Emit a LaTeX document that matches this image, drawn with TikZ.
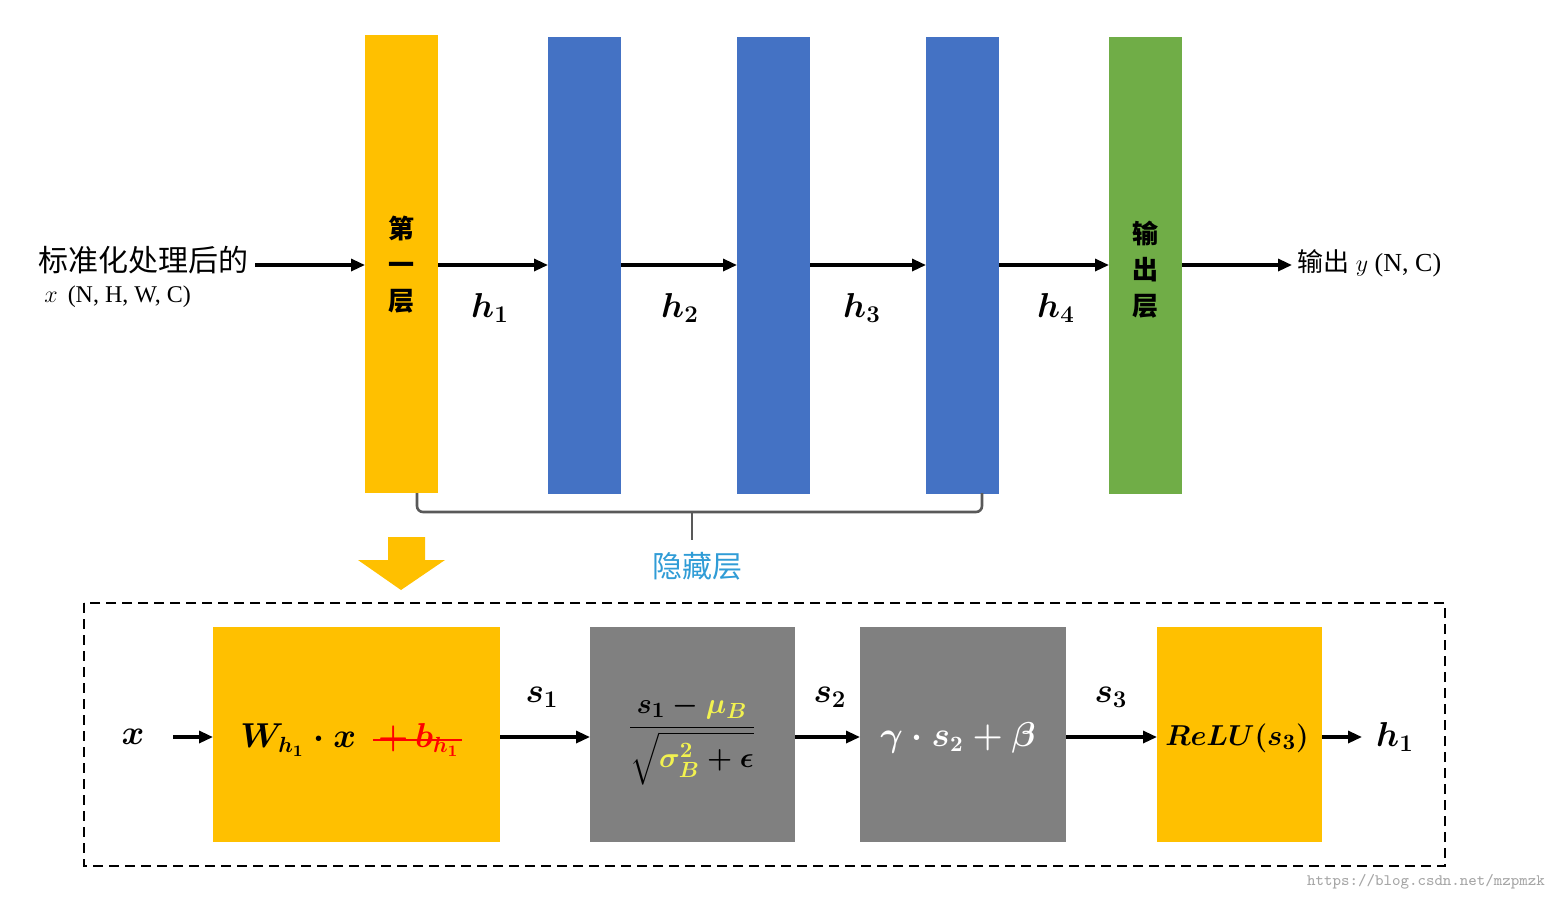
\documentclass[tikz,border=0pt]{standalone}
\usepackage{fontspec}
\usepackage{amsmath,bm}
\setmainfont{Liberation Serif}
\newfontfamily\cjk{Noto Sans CJK SC}
\usetikzlibrary{arrows.meta}
\definecolor{cy}{HTML}{FFC000}
\definecolor{cb}{HTML}{4472C4}
\definecolor{cg}{HTML}{70AD47}
\definecolor{cgr}{HTML}{808080}
\definecolor{cfy}{HTML}{F2F250}
\begin{document}
\begin{tikzpicture}[x=0.5pt,y=-0.5pt,
  bar/.style={draw=none,anchor=north west,inner sep=0},
  arr/.style={-{Triangle[length=7pt,width=6pt]},line width=1.6pt},
  hl/.style={font=\fontsize{18}{20}\selectfont\boldmath},
  bx/.style={draw=none,inner sep=0,anchor=north west}]
\useasboundingbox (0,0) rectangle (1564,902);
% top bars
\node[bar,fill=cy,minimum width=36.5pt,minimum height=229pt] (L1) at (365,35) {};
\node[bar,fill=cb,minimum width=36.5pt,minimum height=228.5pt] (B1) at (548,37) {};
\node[bar,fill=cb,minimum width=36.5pt,minimum height=228.5pt] (B2) at (737,37) {};
\node[bar,fill=cb,minimum width=36.5pt,minimum height=228.5pt] (B3) at (926,37) {};
\node[bar,fill=cg,minimum width=36.5pt,minimum height=228.5pt] (O) at (1109,37) {};
\node[font=\cjk\bfseries\fontsize{13}{17}\selectfont,align=center] (t1) at (401,265) {第\\[1pt]一\\[1pt]层};
\node[font=\cjk\bfseries\fontsize{13}{17}\selectfont,align=center] (t2) at (1145,270) {输\\[1pt]出\\[1pt]层};
\node[anchor=west,inner sep=0,font=\fontsize{15}{18}\selectfont] (in1) at (38,260) {\cjk 标准化处理后的};
\node[anchor=west,inner sep=0,font=\fontsize{12}{14}\selectfont] (in2) at (44,297) {$x$\, (N, H, W, C)};
\node[anchor=west,inner sep=0,font=\fontsize{13}{16}\selectfont] (out) at (1297,263) {{\cjk 输出} $y$ (N, C)};
\coordinate (a0) at (255,265);
\draw[arr] (a0) -- (365,265);
\draw[arr] (438,265) -- (548,265);
\draw[arr] (621,265) -- (737,265);
\draw[arr] (810,265) -- (926,265);
\draw[arr] (999,265) -- (1109,265);
\draw[arr] (1182,265) -- (1292,265);
\node[hl] (h1) at (490,308) {$h_1$};
\node[hl] (h2) at (680,308) {$h_2$};
\node[hl] (h3) at (862,308) {$h_3$};
\node[hl] (h4) at (1056,308) {$h_4$};
% brace
\draw[line width=1.3pt,color=black!65,rounded corners=3pt] (417,493) -- (417,512) -- (982,512) -- (982,493);
\draw[line width=1.3pt,color=black!65] (692,512) -- (692,540);
\node[font=\cjk\fontsize{15}{18}\selectfont,text=cb!70!cyan] (hid) at (697,566) {隐藏层};
% big arrow
\fill[cy] (388,537) -- (425,537) -- (425,560) -- (445,560) -- (401,590) -- (358,560) -- (388,560) -- cycle;
% dashed box
\draw[line width=1.3pt,dash pattern=on 5pt off 3pt] (84,603) rectangle (1445,866);
% bottom boxes
\node[bx,fill=cy,minimum width=143.5pt,minimum height=107.5pt] (b1) at (213,627) {};
\node[bx,fill=cgr,minimum width=102.5pt,minimum height=107.5pt] (b2) at (590,627) {};
\node[bx,fill=cgr,minimum width=103pt,minimum height=107.5pt] (b3) at (860,627) {};
\node[bx,fill=cy,minimum width=82.5pt,minimum height=107.5pt] (b4) at (1157,627) {};
\node[hl] (x) at (133,737) {$x$};
\node[font=\fontsize{16}{18}\selectfont\boldmath] (f1) at (350,740) {$W_{h_1}\cdot x\;\;$\textcolor{red}{$+\,b_{h_1}$}};
\draw[red,line width=1pt] (373,740) -- (462,740);
\node[font=\fontsize{15}{18}\selectfont\boldmath] (f2) at (692,740) {$\dfrac{s_1-\textcolor{cfy}{\mu_B}}{\sqrt{\textcolor{cfy}{\sigma_B^2}+\epsilon}}$};
\node[font=\fontsize{16}{18}\selectfont\boldmath,text=white] (f3) at (958,738) {$\gamma\cdot s_2+\beta$};
\node[font=\fontsize{15}{18}\selectfont\boldmath] (f4) at (1237,738) {$ReLU(s_3)$};
\node[hl] (s1) at (542,697) {$s_1$};
\node[hl] (s2) at (830,697) {$s_2$};
\node[hl] (s3) at (1111,697) {$s_3$};
\node[hl] (ho) at (1395,737) {$h_1$};
\draw[arr] (173,737) -- (b1.west |- 0,737);
\draw[arr] (500,737) -- (590,737);
\draw[arr] (795,737) -- (860,737);
\draw[arr] (1066,737) -- (1157,737);
\draw[arr] (1322,737) -- (1362,737);
\node[text=black!35,font=\ttfamily\fontsize{8}{9}\selectfont,anchor=east] (wm) at (1552,882) {https://blog.csdn.net/mzpmzk};
\end{tikzpicture}
\end{document}
